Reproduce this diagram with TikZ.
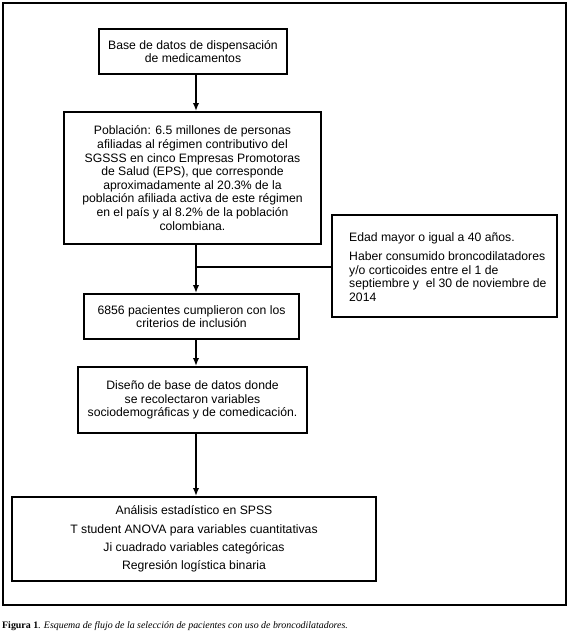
\documentclass[tikz,border=0pt]{standalone}
\usepackage{fontspec}
\setmainfont{Liberation Sans}
\newfontfamily\capfont{Liberation Serif}
\usetikzlibrary{arrows.meta}
\begin{document}
\begin{tikzpicture}[x=1pt,y=-1pt,
  flowbox/.style={draw=black,line width=2pt,align=center,inner sep=0pt,
    font=\fontsize{12.2}{13.6}\selectfont,anchor=center},
  conn/.style={line width=2pt,-{Latex[length=8pt,width=6.5pt]}},
  plainconn/.style={line width=2pt}]
\useasboundingbox (0,0) rectangle (568,643);
\node[draw=black,line width=2pt,minimum width=563pt,minimum height=602pt,inner sep=0pt,anchor=north west] (frame) at (1.5,1.5) {};
% boxes
\node[flowbox,minimum width=188pt,minimum height=45pt] (b1) at (193,51.5)
  {Base de datos de dispensación\\de medicamentos};
\node[flowbox,minimum width=257pt,minimum height=132pt] (b2) at (192.5,178)
  {Población: 6.5 millones de personas\\afiliadas al régimen contributivo del\\SGSSS en cinco Empresas Promotoras\\de Salud (EPS), que corresponde\\aproximadamente al 20.3\% de la\\población afiliada activa de este régimen\\en el país y al 8.2\% de la población\\colombiana.};
\node[flowbox,minimum width=225pt,minimum height=102pt] (b3) at (444.5,266) {};
\node[anchor=west,align=left,inner sep=0pt,font=\fontsize{12.2}{13.6}\selectfont] (b3t) at (349,267)
  {Edad mayor o igual a 40 años.\\[5.5pt]Haber consumido broncodilatadores\\y/o corticoides entre el 1 de\\septiembre y\ \ el 30 de noviembre de\\2014};
\node[flowbox,minimum width=215pt,minimum height=45pt] (b4) at (191.5,316.5)
  {6856 pacientes cumplieron con los\\criterios de inclusión};
\node[flowbox,minimum width=229pt,minimum height=66pt] (b5) at (192.5,400)
  {Diseño de base de datos donde\\se recolectaron variables\\sociodemográficas y de comedicación.};
\node[flowbox,minimum width=364pt,minimum height=84pt,font=\fontsize{12.2}{18.4}\selectfont] (b6) at (194,539)
  {Análisis estadístico en SPSS\\T student ANOVA para variables cuantitativas\\Ji cuadrado variables categóricas\\Regresión logística binaria};
% connectors
\coordinate (ax) at (196,0);
\coordinate (jn) at (196,267);
\draw[conn] (b1.south -| ax) -- (b2.north -| ax);
\draw[conn] (b2.south -| ax) -- (b4.north -| ax);
\draw[plainconn] (b3.west |- jn) -- (jn);
\draw[conn] (b4.south -| ax) -- (b5.north -| ax);
\draw[conn] (b5.south -| ax) -- (b6.north -| ax);
% caption
\node[anchor=west,inner sep=0pt,font=\capfont\fontsize{9.9}{11}\selectfont] (cap) at (2,626)
  {\textbf{Figura 1}. \textit{Esquema de flujo de la selección de pacientes con uso de broncodilatadores.}};
\end{tikzpicture}
\end{document}
